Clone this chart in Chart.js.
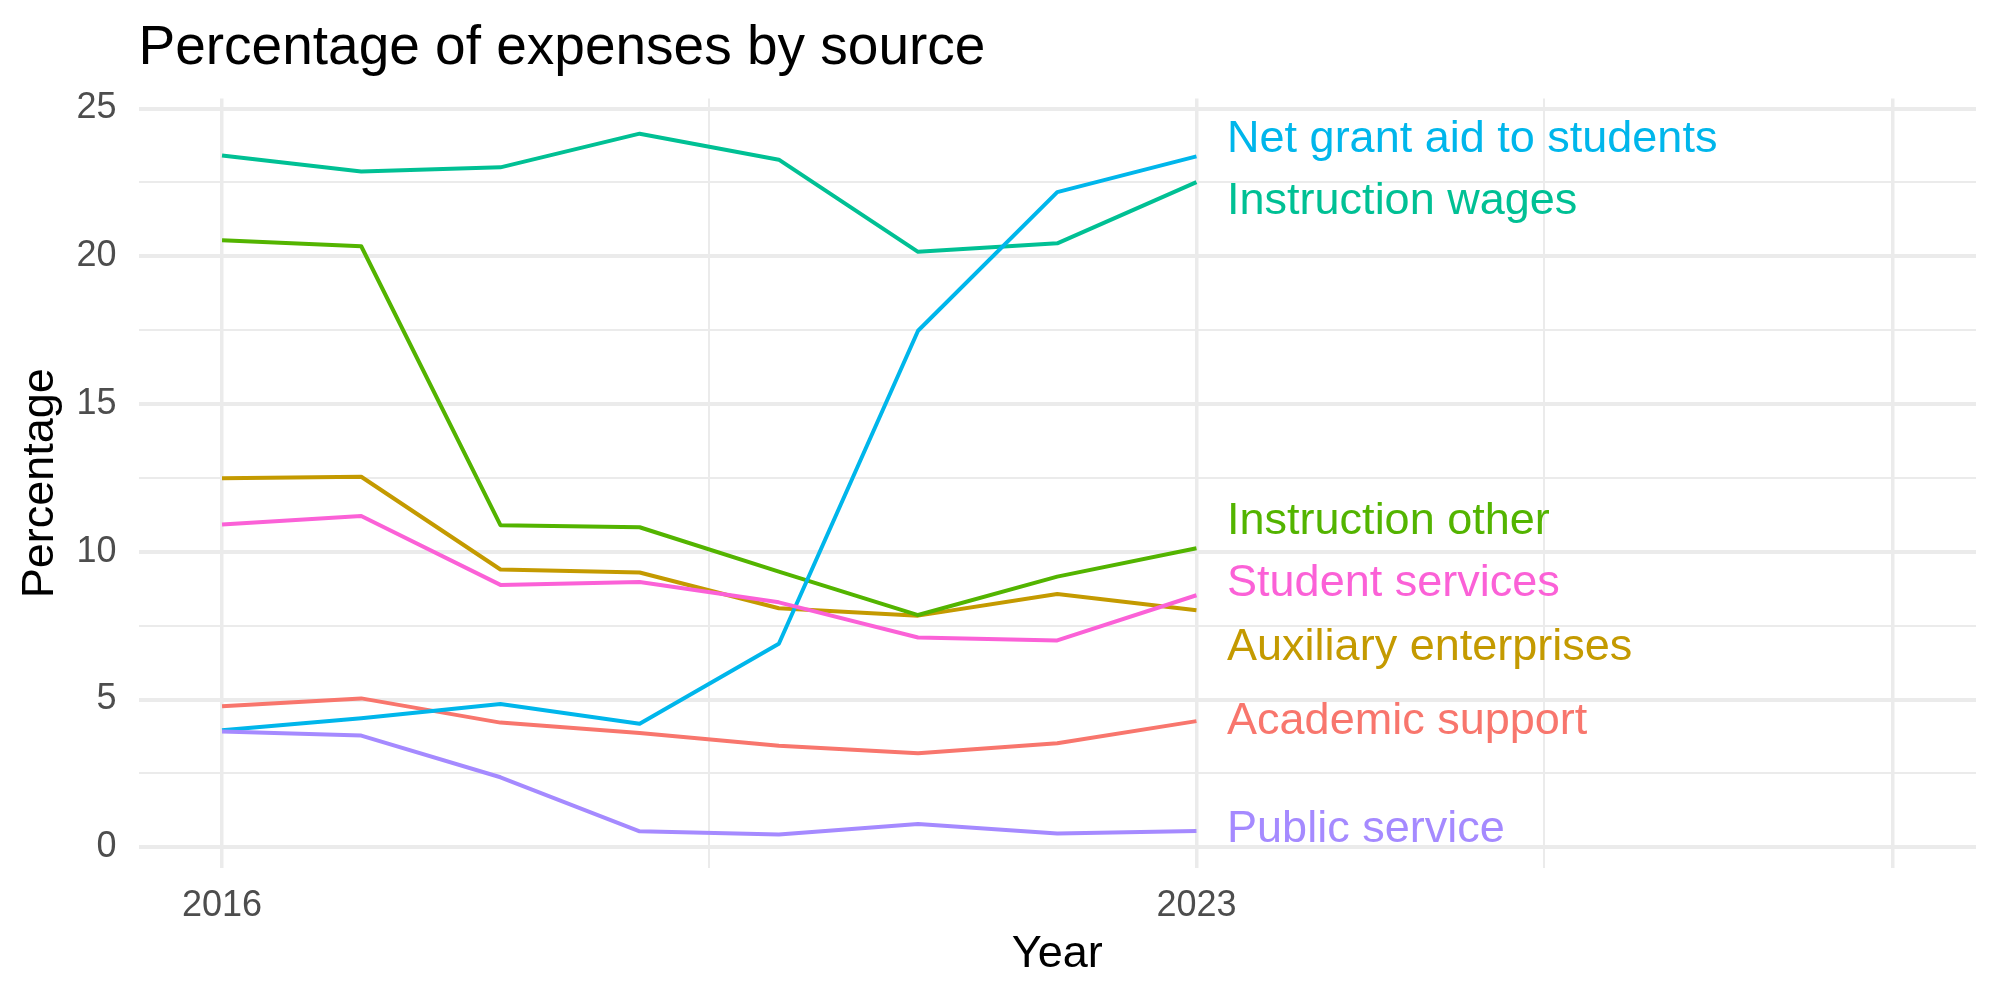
<!DOCTYPE html>
<html lang="en">
<head>
  <meta charset="UTF-8">
  <title>Percentage of expenses by source</title>
  <script src="https://cdn.jsdelivr.net/npm/chart.js"></script>
  <style>
    html, body { margin: 0; padding: 0; background: #fff; }
    canvas { display: block; }
  </style>
</head>
<body>
  <canvas id="expensesChart" width="2000" height="1000"></canvas>

  <script>
    // data
    const years = [2016, 2017, 2018, 2019, 2020, 2021, 2022, 2023];
    const sources = ['Academic support', 'Auxiliary enterprises', 'Instruction other', 'Instruction wages',
                     'Net grant aid to students', 'Public service', 'Student services'];
    const academicSupport = [4.77, 5.04, 4.22, 3.87, 3.44, 3.18, 3.52, 4.27];
    const auxiliaryEnterprises = [12.49, 12.54, 9.40, 9.30, 8.09, 7.84, 8.57, 8.02];
    const instructionOther = [20.54, 20.34, 10.90, 10.83, 9.33, 7.86, 9.16, 10.12];
    const instructionWages = [23.41, 22.87, 23.01, 24.15, 23.27, 20.15, 20.44, 22.51];
    const netGrantAid = [3.96, 4.37, 4.85, 4.18, 6.89, 17.48, 22.17, 23.38];
    const publicService = [3.92, 3.78, 2.37, 0.54, 0.43, 0.79, 0.47, 0.55];
    const studentServices = [10.92, 11.21, 8.88, 8.98, 8.29, 7.10, 7.00, 8.53];
    const colors = ['#F8766D', '#C49A00', '#53B400', '#00C094', '#00B6EB', '#A58AFF', '#FB61D7'];

    // end labels (x in years, y in percent)
    const labelX = 2023.22;
    const labelY = [4.26, 6.76, 11.02, 21.85, 23.95, 0.59, 8.92];

    // axis breaks
    const xBreaks = [2016, 2019.5, 2023, 2025.5, 2028];
    const xMajor = [2016, 2023, 2028];
    const xLabels = [2016, 2023];
    const yBreaks = [0, 2.5, 5, 7.5, 10, 12.5, 15, 17.5, 20, 22.5, 25];
    const yLabels = [0, 5, 10, 15, 20, 25];

    const seriesValues = [academicSupport, auxiliaryEnterprises, instructionOther, instructionWages,
                          netGrantAid, publicService, studentServices];

    const FONT = '"Liberation Sans", Arial, Helvetica, sans-serif';

    // ggplot draws the last group on top, Chart.js draws dataset 0 on top
    const datasets = [];
    for (let i = sources.length - 1; i >= 0; i--) {
      datasets.push({
        label: sources[i],
        data: years.map((yr, j) => ({ x: yr, y: seriesValues[i][j] })),
        borderColor: colors[i],
        borderWidth: 4,
        pointRadius: 0,
        tension: 0,
        fill: false,
        borderJoinStyle: 'round'
      });
    }

    const endLabels = {
      id: 'endLabels',
      afterDatasetsDraw(chart) {
        const { ctx, scales: { x, y } } = chart;
        ctx.save();
        ctx.font = '45px ' + FONT;
        ctx.textAlign = 'left';
        ctx.textBaseline = 'middle';
        sources.forEach((name, i) => {
          ctx.fillStyle = colors[i];
          ctx.fillText(name, x.getPixelForValue(labelX), y.getPixelForValue(labelY[i]));
        });
        ctx.restore();
      }
    };

    new Chart(document.getElementById('expensesChart'), {
      type: 'line',
      data: { datasets },
      plugins: [endLabels],
      options: {
        responsive: false,
        animation: false,
        layout: { padding: { left: 0, right: 24, top: 0, bottom: 0 } },
        plugins: {
          legend: { display: false },
          tooltip: { enabled: false },
          title: {
            display: true,
            text: 'Percentage of expenses by source',
            align: 'start',
            fullSize: false,
            color: '#000',
            font: { family: FONT, size: 55, weight: 'normal', lineHeight: 1.2 },
            padding: { top: 16, bottom: 16.5 }
          }
        },
        scales: {
          x: {
            type: 'linear',
            min: 2015.4,
            max: 2028.6,
            afterBuildTicks: s => { s.ticks = xBreaks.map(v => ({ value: v })); },
            afterFit: s => { s.height = 132; },
            ticks: {
              color: '#4D4D4D',
              font: { family: FONT, size: 36 },
              padding: 16,
              maxRotation: 0,
              autoSkip: false,
              callback: v => xLabels.includes(v) ? String(v) : ''
            },
            grid: {
              color: '#EBEBEB',
              drawTicks: false,
              lineWidth: c => xMajor.includes(c.tick.value) ? 3.5 : 2
            },
            border: { display: false },
            title: {
              display: true,
              text: 'Year',
              color: '#000',
              font: { family: FONT, size: 45, lineHeight: 1.2 },
              padding: { top: 18, bottom: 18 }
            }
          },
          y: {
            min: -0.7,
            max: 25.34,
            afterBuildTicks: s => { s.ticks = yBreaks.map(v => ({ value: v })); },
            afterFit: s => { s.width = 138.5; },
            ticks: {
              color: '#4D4D4D',
              font: { family: FONT, size: 36 },
              padding: 22,
              autoSkip: false,
              callback: v => yLabels.includes(v) ? String(v) : ''
            },
            grid: {
              color: '#EBEBEB',
              drawTicks: false,
              lineWidth: c => yLabels.includes(c.tick.value) ? 4 : 2
            },
            border: { display: false },
            title: {
              display: true,
              text: 'Percentage',
              color: '#000',
              font: { family: FONT, size: 45, lineHeight: 1.2 },
              padding: { top: 14, bottom: 14 }
            }
          }
        }
      }
    });
  </script>
</body>
</html>
